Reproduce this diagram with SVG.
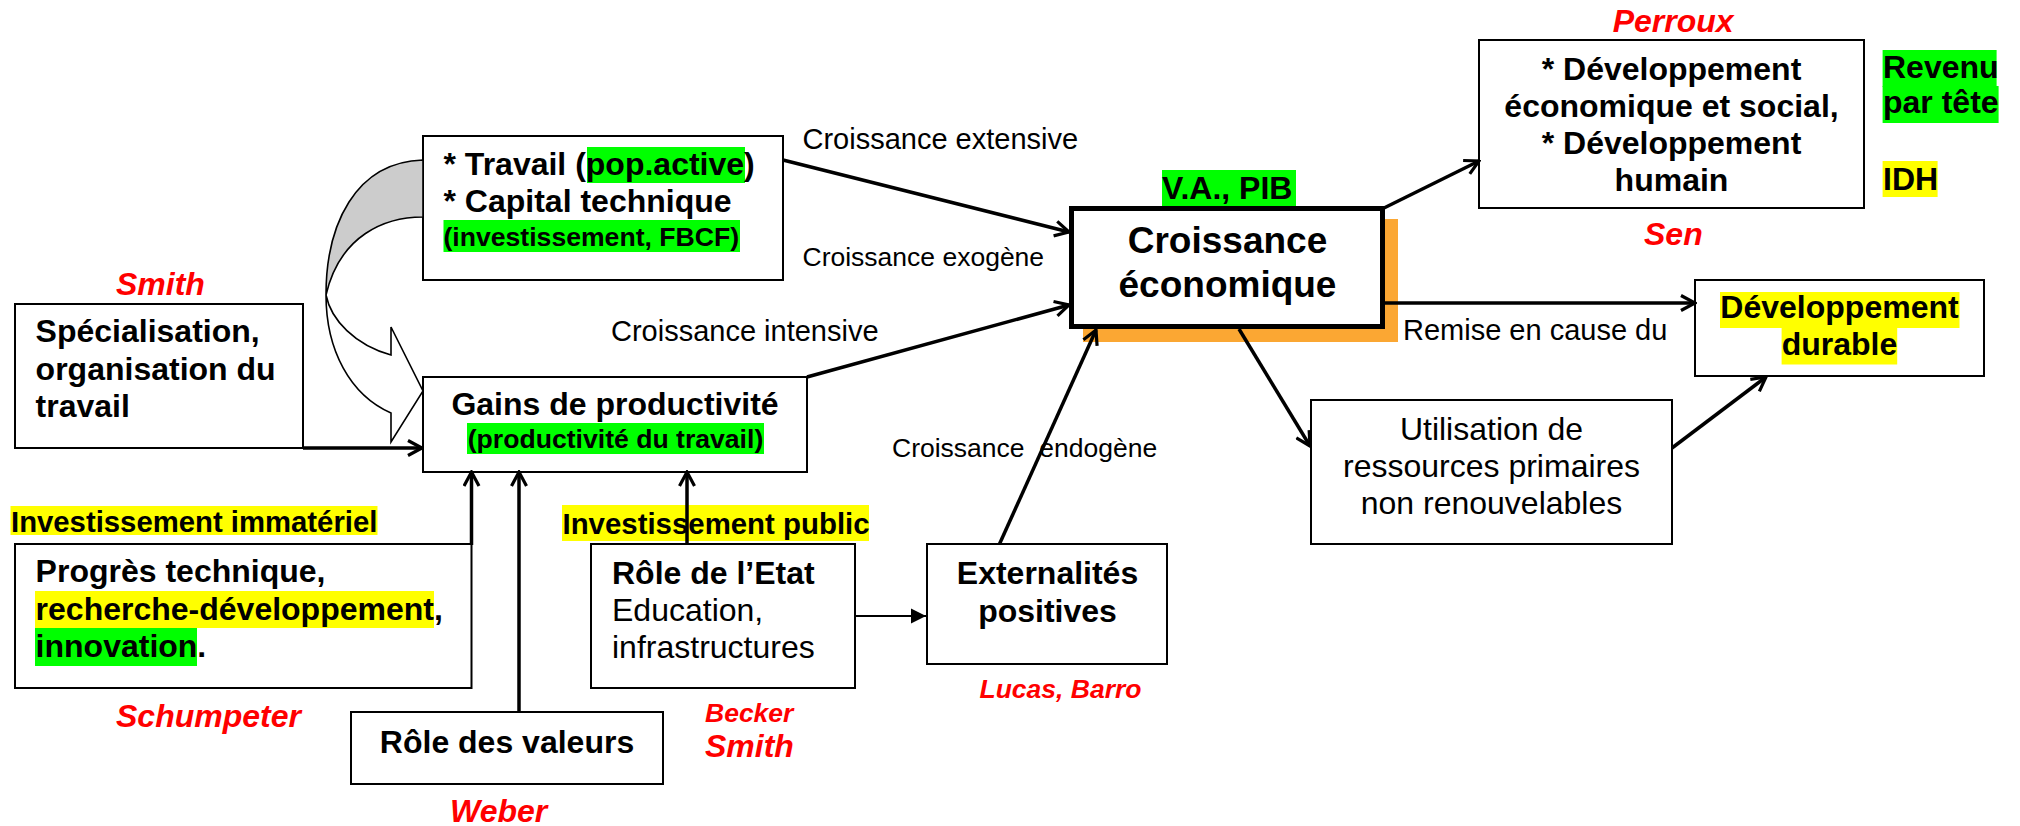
<svg xmlns="http://www.w3.org/2000/svg" width="2020" height="826" viewBox="0 0 2020 826">
<style>
text{font-family:"Liberation Sans",Arial,sans-serif;fill:#000}
.b{font-weight:bold;font-size:32px}
.r{font-size:32px}
.s{font-size:29px}
.xs{font-size:26.5px}
.red{fill:#f00;font-weight:bold;font-style:italic;font-size:32px}
.redsm{fill:#f00;font-weight:bold;font-style:italic;font-size:26.5px}
.box{fill:#fff;stroke:#000;stroke-width:2}
.g{fill:#00ff00}
.y{fill:#ffff00}
.c{stroke:#000;stroke-width:3.5;fill:none}
.m{text-anchor:middle}
</style>
<defs>
<marker id="open" markerUnits="userSpaceOnUse" viewBox="0 0 18 18" refX="16" refY="9" markerWidth="18" markerHeight="18" orient="auto">
<path d="M2,1.5 L16,9 L2,16.5" fill="none" stroke="#000" stroke-width="3.2"/>
</marker>
<marker id="tri" markerUnits="userSpaceOnUse" viewBox="0 0 16 16" refX="15" refY="8" markerWidth="16" markerHeight="16" orient="auto">
<path d="M0,0.5 L15,8 L0,15.5 Z" fill="#000"/>
</marker>
</defs>

<g id="travail">
<rect class="box" x="423" y="136" width="360" height="144"/>
<rect class="g" x="587" y="147" width="158" height="36"/>
<rect class="g" x="443.5" y="220" width="296.5" height="32"/>
<text class="b" x="443.5" y="175">* Travail (pop.active)</text>
<text class="b" x="443.5" y="212">* Capital technique</text>
<text class="b" x="443.5" y="246" style="font-size:26.6px">(investissement, FBCF)</text>
</g>

<g id="fleche-courbe">
<path d="M423,160 C355,162 326,225 326,295 C340,235 385,217 423,217 Z" fill="#cccccc" stroke="#000" stroke-width="1.6"/>
<path d="M326,295 C326,350 350,395 391,413 L391,442 L423,391 L391,327 L391,355 C355,345 331,320 326,295 Z" fill="#fff" stroke="#000" stroke-width="1.6" stroke-linejoin="miter"/>
</g>

<g id="specialisation">
<text class="red" x="116" y="295">Smith</text>
<rect class="box" x="15" y="304" width="288" height="144"/>
<text class="b" x="35.6" y="342">Spécialisation,</text>
<text class="b" x="35.6" y="379.5">organisation du</text>
<text class="b" x="35.6" y="417">travail</text>
</g>

<g id="gains">
<rect class="box" x="423" y="377" width="384" height="95"/>
<rect class="g" x="467" y="423" width="297" height="31"/>
<text class="b m" x="615" y="415">Gains de productivité</text>
<text class="b m" x="615.5" y="448" style="font-size:26.6px">(productivité du travail)</text>
</g>

<g id="labels-croissance">
<text class="s" x="802.5" y="149">Croissance extensive</text>
<text class="xs" x="802.5" y="266">Croissance exogène</text>
<text class="s" x="611" y="340.5">Croissance intensive</text>
<text class="xs" x="892" y="457" xml:space="preserve">Croissance  endogène</text>
<text class="s" x="1403" y="339.5">Remise en cause du</text>
</g>

<g id="croissance">
<rect class="g" x="1162" y="170" width="134" height="37"/>
<text class="b" x="1162" y="199">V.A., PIB</text>
<rect x="1083" y="219" width="315" height="123" fill="#fba733"/>
<rect x="1071.5" y="208.5" width="311" height="118" fill="#fff" stroke="#000" stroke-width="5"/>
<text class="b m" x="1227.5" y="253" style="font-size:37px">Croissance</text>
<text class="b m" x="1227.5" y="297" style="font-size:37px">économique</text>
</g>

<g id="developpement">
<text class="red" x="1612.7" y="32">Perroux</text>
<rect class="box" x="1479" y="40" width="385" height="168"/>
<text class="b m" x="1671.5" y="80">* Développement</text>
<text class="b m" x="1671.5" y="117">économique et social,</text>
<text class="b m" x="1671.5" y="154">* Développement</text>
<text class="b m" x="1671.5" y="191">humain</text>
<text class="red" x="1644" y="245">Sen</text>
</g>

<g id="indicateurs">
<rect class="g" x="1882.6" y="50" width="114" height="37"/>
<rect class="g" x="1882.6" y="86" width="116" height="37"/>
<text class="b" x="1883" y="78">Revenu</text>
<text class="b" x="1883" y="113">par tête</text>
<rect class="y" x="1882.6" y="161" width="55" height="36"/>
<text class="b" x="1883" y="190">IDH</text>
</g>

<g id="durable">
<rect class="box" x="1695" y="280" width="289" height="96"/>
<rect class="y" x="1720" y="292" width="239.5" height="36"/>
<rect class="y" x="1781.6" y="327.5" width="115.6" height="37"/>
<text class="b m" x="1839.5" y="318">Développement</text>
<text class="b m" x="1839.5" y="355">durable</text>
</g>

<g id="utilisation">
<rect class="box" x="1311" y="400" width="361" height="144"/>
<text class="r m" x="1491.5" y="440">Utilisation de</text>
<text class="r m" x="1491.5" y="477">ressources primaires</text>
<text class="r m" x="1491.5" y="513.5">non renouvelables</text>
</g>

<g id="progres">
<rect class="y" x="10.5" y="506" width="367" height="29"/>
<text class="b" x="11" y="531.5" style="font-size:29.3px">Investissement immatériel</text>
<rect class="box" x="15" y="544" width="456.5" height="144"/>
<rect class="y" x="35" y="591" width="399" height="37"/>
<rect class="g" x="35" y="628" width="162" height="38"/>
<text class="b" x="35.6" y="582">Progrès technique,</text>
<text class="b" x="35.6" y="619.5">recherche-développement,</text>
<text class="b" x="35.6" y="657">innovation.</text>
<text class="red" x="116" y="727">Schumpeter</text>
</g>

<g id="valeurs">
<rect class="box" x="351" y="712" width="312" height="72"/>
<text class="b m" x="507" y="753">Rôle des valeurs</text>
<text class="red" x="450" y="822">Weber</text>
</g>

<g id="etat">
<rect class="y" x="562" y="505" width="307" height="36"/>
<text class="b" x="562.5" y="534" style="font-size:29.4px">Investissement public</text>
<rect class="box" x="591" y="544" width="264" height="144"/>
<text class="b" x="612" y="583.5">Rôle de l’Etat</text>
<text class="r" x="612" y="621">Education,</text>
<text class="r" x="612" y="657.5">infrastructures</text>
<text class="redsm" x="705" y="722">Becker</text>
<text class="red" x="705" y="757">Smith</text>
</g>

<g id="externalites">
<rect class="box" x="927" y="544" width="240" height="120"/>
<text class="b m" x="1047.5" y="584">Externalités</text>
<text class="b m" x="1047.5" y="621.5">positives</text>
<text class="redsm" x="979.5" y="698">Lucas, Barro</text>
</g>

<g id="connectors">
<line class="c" x1="783" y1="160" x2="1069" y2="232" marker-end="url(#open)"/>
<line class="c" x1="807" y1="377" x2="1069" y2="305" marker-end="url(#open)"/>
<line class="c" x1="303" y1="448" x2="422" y2="448" marker-end="url(#open)"/>
<line class="c" x1="471.5" y1="545" x2="471.5" y2="472" stroke-width="3" marker-end="url(#open)"/>
<line class="c" x1="519" y1="712" x2="519" y2="472" stroke-width="3" marker-end="url(#open)"/>
<line class="c" x1="687" y1="545" x2="687" y2="472" stroke-width="3" marker-end="url(#open)"/>
<line x1="855" y1="616" x2="926" y2="616" stroke="#000" stroke-width="2.2" marker-end="url(#tri)"/>
<line class="c" x1="999.5" y1="544" x2="1096" y2="330" marker-end="url(#open)"/>
<line class="c" x1="1384" y1="208" x2="1479" y2="161" marker-end="url(#open)"/>
<line class="c" x1="1384" y1="303" x2="1695" y2="303" stroke-width="4.5" marker-end="url(#open)"/>
<line class="c" x1="1239" y1="329" x2="1310" y2="446" marker-end="url(#open)"/>
<line class="c" x1="1672" y1="448" x2="1766" y2="377" marker-end="url(#open)"/>
</g>
</svg>
